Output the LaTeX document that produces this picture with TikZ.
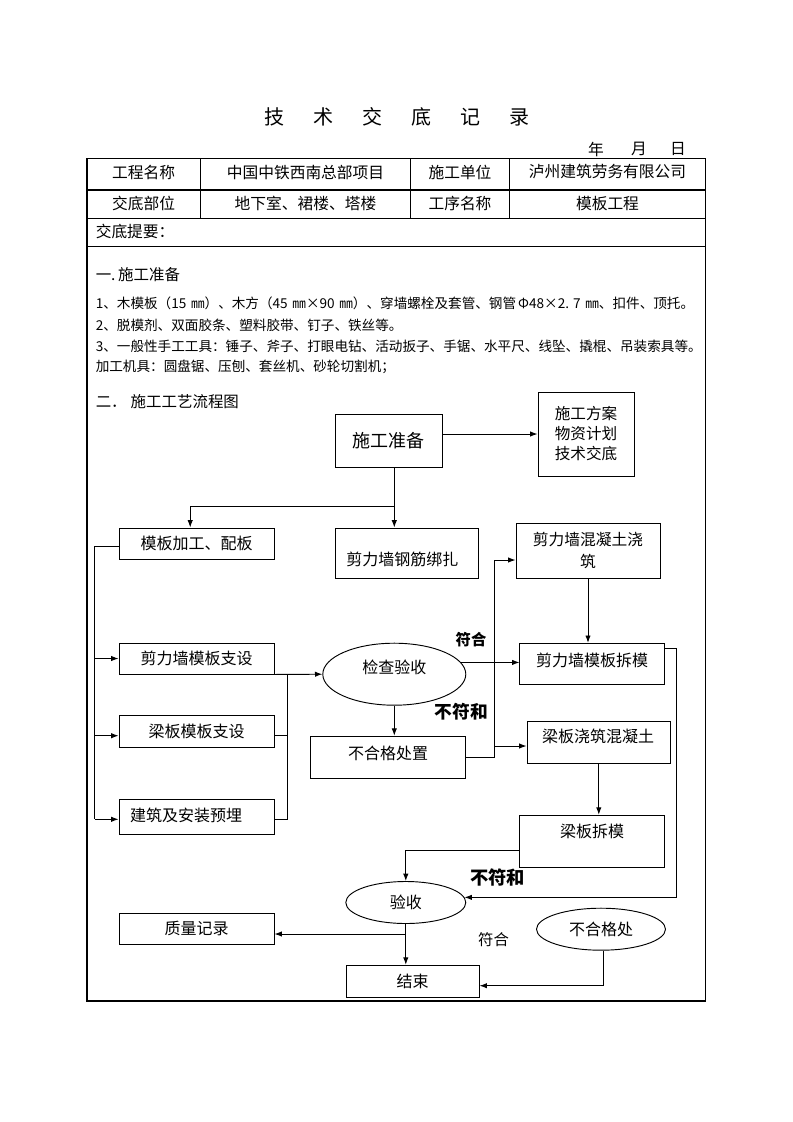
\documentclass[tikz,border=0pt]{standalone}
\usepackage{fontspec}
\setmainfont{Noto Sans CJK SC}
\usetikzlibrary{arrows.meta,shapes.geometric,calc}
\begin{document}
\begin{tikzpicture}[x=0.75pt,y=-0.75pt,
  box/.style args={#1/#2}{draw, line width=0.7pt, rectangle, inner sep=0pt,
     minimum width=#1*0.75pt, minimum height=#2*0.75pt, font=\fontsize{12pt}{15pt}\selectfont, align=center},
  ell/.style args={#1/#2}{draw, line width=0.7pt, ellipse, inner sep=0pt,
     minimum width=#1*0.75pt, minimum height=#2*0.75pt, font=\fontsize{12pt}{15pt}\selectfont},
  txt/.style={inner sep=0pt, font=\fontsize{12pt}{15pt}\selectfont},
  cell/.style={inner sep=0pt, font=\fontsize{11.8pt}{14pt}\selectfont},
  body/.style={inner sep=0pt, anchor=west, font=\fontsize{10.2pt}{12pt}\selectfont},
  head/.style={inner sep=0pt, anchor=west, font=\fontsize{11.6pt}{14pt}\selectfont},
  lab/.style={inner sep=0pt, font=\fontsize{11.5pt}{14pt}\selectfont},
  conn/.style={line width=0.7pt},
  arr/.style={line width=0.7pt, -{Latex[length=5.5pt,width=4pt]}}
]
\fill[white] (0,0) rectangle (793,1122);
\useasboundingbox (0,0) rectangle (793,1122);

% title and date
\node[inner sep=0pt, font=\fontsize{15pt}{18pt}\selectfont] (title) at (396.5,116.7)
  {技\hspace{21.75pt}术\hspace{21.75pt}交\hspace{21.75pt}底\hspace{21.75pt}记\hspace{21.75pt}录};
\node[cell] (dy) at (596,149.3) {年};
\node[cell] (dm) at (639,149.3) {月};
\node[cell] (dd) at (678,149.3) {日};

% table
\draw[line width=0.9pt] (87,158.3) rectangle (705.7,1001);
\draw[line width=0.9pt] (87,190) -- (705.7,190);
\draw[line width=0.9pt] (87,218.3) -- (705.7,218.3);
\draw[line width=0.9pt] (87,246.7) -- (705.7,246.7);
\foreach \cx in {200.4,410.6,509.4} \draw[line width=0.9pt] (\cx,158.3) -- (\cx,218.3);

\node[cell] (h1) at (143.7,172) {工程名称};
\node[cell] (h2) at (305.5,172) {中国中铁西南总部项目};
\node[cell] (h3) at (460,172) {施工单位};
\node[cell] (h4) at (607.5,172) {泸州建筑劳务有限公司};
\node[cell] (h5) at (143.7,203.5) {交底部位};
\node[cell] (h6) at (305.5,203.5) {地下室、裙楼、塔楼};
\node[cell] (h7) at (460,203.5) {工序名称};
\node[cell] (h8) at (607.5,203.5) {模板工程};
\node[cell, anchor=west] (h9) at (95.5,231.7) {交底提要：};

% section text
\node[head] (s1) at (95.5,275) {一.\hspace{2pt}施工准备};
\node[body] (l1) at (95.5,303.3) {1、木模板（15\hspace{3.5pt}㎜）、木方（45\hspace{3.5pt}㎜×90\hspace{3.5pt}㎜）、穿墙螺栓及套管、钢管\hspace{1.5pt}Φ48×2.\hspace{3pt}7\hspace{3.5pt}㎜、扣件、顶托。};
\node[body] (l2) at (95.5,325) {2、脱模剂、双面胶条、塑料胶带、钉子、铁丝等。};
\node[body] (l3) at (95.5,346.7) {3、一般性手工工具：锤子、斧子、打眼电钻、活动扳子、手锯、水平尺、线坠、撬棍、吊装索具等。};
\node[body] (l4) at (95.5,366.7) {加工机具：圆盘锯、压刨、套丝机、砂轮切割机；};
\node[head] (s2) at (95.5,401.7) {二．\hspace{3pt}施工工艺流程图};

% flowchart boxes
\node[box=107/53, font=\fontsize{13.5pt}{16pt}\selectfont] (prep) at (388.5,440.5) {施工准备};
\node[box=96/84, font=\fontsize{11.7pt}{15pt}\selectfont] (plan) at (586,434) {施工方案\\物资计划\\技术交底};
\node[box=155/31] (mbjg) at (196.5,543.5) {模板加工、配板};
\node[box=143/50] (gjbz) at (406.5,553) {};
\node[txt] (tgjbz) at (402.4,559) {剪力墙钢筋绑扎};
\node[box=144/55, font=\fontsize{11.8pt}{17pt}\selectfont] (hntjz) at (588,550.5) {剪力墙混凝土浇\\筑};
\node[box=155/31] (qmzs) at (196.5,658.5) {剪力墙模板支设};
\node[ell=143/62] (check) at (394.3,674.2) {};
\node[txt] (tcheck) at (394.3,667.3) {检查验收};
\node[box=144.5/41] (qmcm) at (592.2,663.8) {};
\node[txt] (tqmcm) at (592.2,660) {剪力墙模板拆模};
\node[box=155/32] (lbzs) at (196.5,731) {梁板模板支设};
\node[box=155/42] (bhg) at (388,757.2) {};
\node[txt] (tbhg) at (388,753.3) {不合格处置};
\node[box=143.6/42] (lbjz) at (598.8,742.2) {};
\node[txt] (tlbjz) at (598,736.7) {梁板浇筑混凝土};
\node[box=155/35] (jzym) at (196.5,816.8) {};
\node[txt, anchor=west] (tjzym) at (129.8,815) {建筑及安装预埋};
\node[box=144.5/52] (lbcm) at (592.2,841.2) {};
\node[txt] (tlbcm) at (592,831.7) {梁板拆模};
\node[ell=120/42] (ys) at (405.8,902.5) {验收};
\node[box=155/31] (zljl) at (196.5,928.8) {质量记录};
\node[ell=129/42] (bhgc) at (601,929.2) {不合格处};
\node[box=133/32] (end) at (412.6,981.2) {结束};

% labels
\node[lab, font=\fontsize{11.5pt}{14pt}\selectfont\bfseries] (fh1) at (471,639.3) {符合};
\node[lab, font=\fontsize{13.3pt}{16pt}\selectfont\bfseries] (bfh1) at (461.5,711.7) {不符和};
\node[lab, font=\fontsize{13.7pt}{16pt}\selectfont\bfseries] (bfh2) at (497.5,877.3) {不符和};
\node[lab] (fh2) at (493.5,939.3) {符合};

% coordinates
\coordinate (j1) at (394.3,506.7);
\coordinate (j2) at (190.2,506.7);
\coordinate (lb) at (94.8,546.7);
\coordinate (rb) at (287,674.3);
\coordinate (vb) at (494,560);
\coordinate (vbl) at (494,746);
\coordinate (r1) at (676.7,648.3);
\coordinate (c1) at (405.8,850.7);
\coordinate (c2) at (405.8,934);
\coordinate (e1) at (603.3,985.7);
\coordinate (ylbzs) at (0,735.7);
\coordinate (yjzym) at (0,819.3);

% connectors
\draw[arr] (prep.east |- plan.west) -- (plan.west);
\draw[conn] (prep.south -| j1) -- (j1) -- (j2);
\draw[arr] (j2) -- (j2 |- mbjg.north);
\draw[arr] (j1) -- (j1 |- gjbz.north);

\draw[conn] (mbjg.west |- lb) -- (lb) -- (lb |- yjzym);
\draw[arr] (lb |- qmzs.west) -- (qmzs.west);
\draw[arr] (lb |- ylbzs) -- (lbzs.west |- ylbzs);
\draw[arr] (lb |- yjzym) -- (jzym.west |- yjzym);

\draw[arr] (qmzs.south east) -- (check.west);
\draw[conn] (lbzs.east |- ylbzs) -- (rb |- ylbzs);
\draw[conn] (jzym.east |- yjzym) -- (rb |- yjzym) -- (rb);

\draw[arr] (check.10) -- (check.10 -| qmcm.west);
\draw[arr] (hntjz.south) -- (hntjz.south |- qmcm.north);
\draw[arr] (check.south) -- (check.south |- bhg.north);

\draw[conn] (bhg.east) -- (bhg.east -| vb) -- (vb);
\draw[arr] (vb) -- (vb -| hntjz.west);
\draw[arr] (vbl) -- (vbl -| lbjz.west);

\draw[arr] (lbjz.south) -- (lbjz.south |- lbcm.north);
\draw[arr] (qmcm.east |- r1) -- (r1) |- (ys.5);
\draw[arr] (lbcm.west |- c1) -- (c1) -- (ys.north);
\draw[arr] (ys.south) -- (ys.south |- end.north);
\draw[arr] (c2) -- (c2 -| zljl.east);
\draw[arr] (bhgc.south -| e1) -- (e1) -- (e1 -| end.east);
\end{tikzpicture}
\end{document}
